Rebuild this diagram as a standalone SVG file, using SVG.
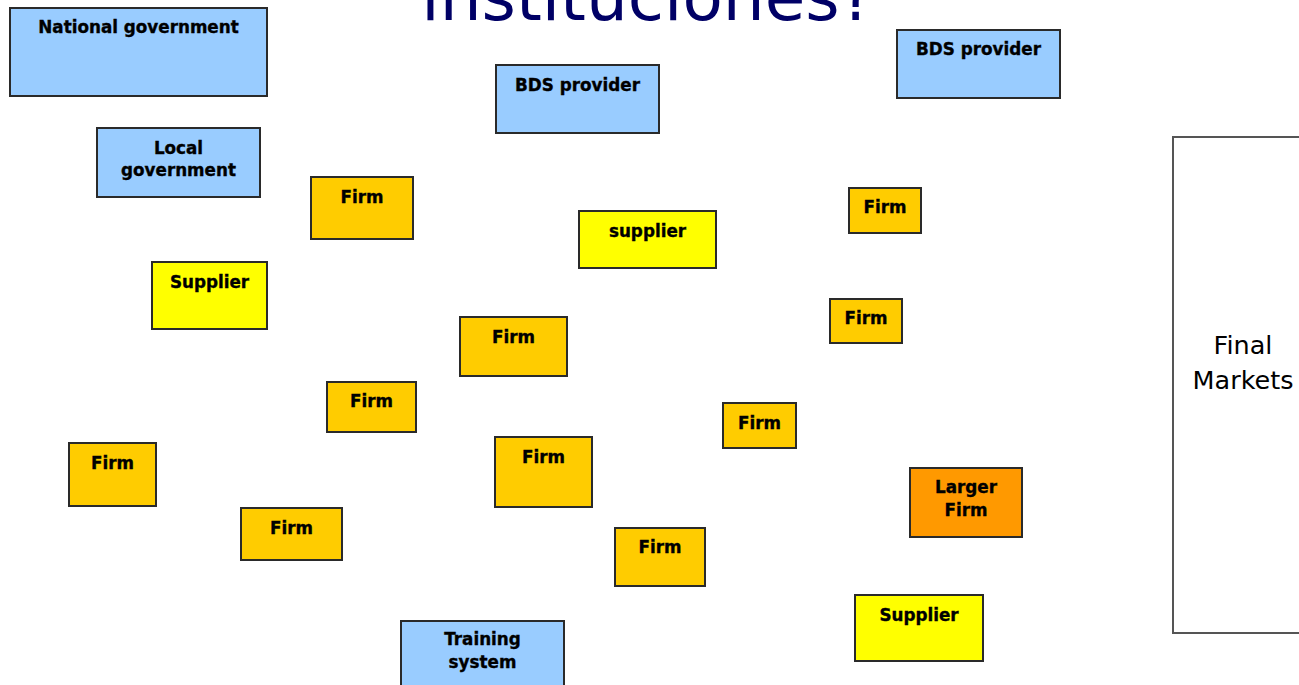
<svg xmlns="http://www.w3.org/2000/svg" width="1299" height="685" viewBox="0 0 1299 685">
  <style>
    .box { stroke: #2a2a2a; stroke-width: 2; }
    .inst { fill: #99ccff; }
    .firm { fill: #ffcc00; }
    .supp { fill: #ffff00; }
    .large { fill: #ff9900; }
    .market { fill: #ffffff; stroke: #555555; stroke-width: 2; }
    .lbl { font-family: "DejaVu Sans", Verdana, sans-serif; font-weight: bold; font-size: 16.8px; fill: #000000; stroke: #000000; stroke-width: 0.35; text-anchor: middle; }
    .mkt { font-family: "DejaVu Sans", Verdana, sans-serif; font-size: 25.5px; fill: #000000; text-anchor: middle; }
    .title { font-family: "DejaVu Sans", Verdana, sans-serif; font-size: 66px; fill: #000066; text-anchor: middle; }
  </style>
  <rect width="1299" height="685" fill="#ffffff"/>

  <!-- heading, partly above the top edge -->
  <text class="title" x="648" y="20">instituciones?</text>

  <!-- institutions -->
  <g id="national-government">
    <rect class="box inst" x="10" y="8" width="257" height="88"/>
    <text class="lbl" x="138.5" y="33">National government</text>
  </g>
  <g id="local-government">
    <rect class="box inst" x="97" y="128" width="163" height="69"/>
    <text class="lbl" x="178.5" y="154">Local</text>
    <text class="lbl" x="178.5" y="176">government</text>
  </g>
  <g id="bds-provider-1">
    <rect class="box inst" x="496" y="65" width="163" height="68"/>
    <text class="lbl" x="577.5" y="91">BDS provider</text>
  </g>
  <g id="bds-provider-2">
    <rect class="box inst" x="897" y="30" width="163" height="68"/>
    <text class="lbl" x="978.5" y="55">BDS provider</text>
  </g>
  <g id="training-system">
    <rect class="box inst" x="401" y="621" width="163" height="70"/>
    <text class="lbl" x="482.5" y="645">Training</text>
    <text class="lbl" x="482.5" y="668">system</text>
  </g>

  <!-- suppliers -->
  <g id="supplier-1">
    <rect class="box supp" x="152" y="262" width="115" height="67"/>
    <text class="lbl" x="209.5" y="288">Supplier</text>
  </g>
  <g id="supplier-2">
    <rect class="box supp" x="579" y="211" width="137" height="57"/>
    <text class="lbl" x="647.5" y="237">supplier</text>
  </g>
  <g id="supplier-3">
    <rect class="box supp" x="855" y="595" width="128" height="66"/>
    <text class="lbl" x="919" y="621">Supplier</text>
  </g>

  <!-- firms -->
  <g id="firm-1">
    <rect class="box firm" x="311" y="177" width="102" height="62"/>
    <text class="lbl" x="362" y="203">Firm</text>
  </g>
  <g id="firm-2">
    <rect class="box firm" x="849" y="188" width="72" height="45"/>
    <text class="lbl" x="885" y="213">Firm</text>
  </g>
  <g id="firm-3">
    <rect class="box firm" x="830" y="299" width="72" height="44"/>
    <text class="lbl" x="866" y="324">Firm</text>
  </g>
  <g id="firm-4">
    <rect class="box firm" x="460" y="317" width="107" height="59"/>
    <text class="lbl" x="513.5" y="343">Firm</text>
  </g>
  <g id="firm-5">
    <rect class="box firm" x="327" y="382" width="89" height="50"/>
    <text class="lbl" x="371.5" y="407">Firm</text>
  </g>
  <g id="firm-6">
    <rect class="box firm" x="723" y="403" width="73" height="45"/>
    <text class="lbl" x="759.5" y="429">Firm</text>
  </g>
  <g id="firm-7">
    <rect class="box firm" x="69" y="443" width="87" height="63"/>
    <text class="lbl" x="112.5" y="469">Firm</text>
  </g>
  <g id="firm-8">
    <rect class="box firm" x="495" y="437" width="97" height="70"/>
    <text class="lbl" x="543.5" y="463">Firm</text>
  </g>
  <g id="firm-9">
    <rect class="box firm" x="241" y="508" width="101" height="52"/>
    <text class="lbl" x="291.5" y="534">Firm</text>
  </g>
  <g id="firm-10">
    <rect class="box firm" x="615" y="528" width="90" height="58"/>
    <text class="lbl" x="660" y="553">Firm</text>
  </g>
  <g id="larger-firm">
    <rect class="box large" x="910" y="468" width="112" height="69"/>
    <text class="lbl" x="966" y="493">Larger</text>
    <text class="lbl" x="966" y="516">Firm</text>
  </g>

  <!-- destination -->
  <g id="final-markets">
    <rect class="market" x="1173" y="137" width="140" height="496"/>
    <text class="mkt" x="1243" y="354">Final</text>
    <text class="mkt" x="1243" y="389">Markets</text>
  </g>

  <g id="connectors"></g>
</svg>
